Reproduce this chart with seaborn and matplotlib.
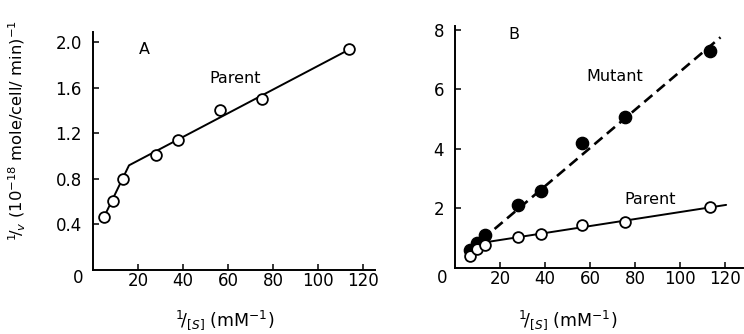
import matplotlib
matplotlib.use("Agg")
import matplotlib.pyplot as plt
import seaborn as sns

# Panel A: parent strain, Lineweaver-Burk plot
inv_s_a = [5.0, 9.0, 13.5, 27.9, 37.6, 56.4, 75.3, 113.8]
parent_a = [0.47, 0.61, 0.80, 1.01, 1.14, 1.41, 1.50, 1.94]
fit_a_x = [5.0, 16.0, 114.0]
fit_a_y = [0.47, 0.92, 1.94]

# Panel B: mutant vs parent
inv_s_b = [6.5, 9.8, 13.5, 28.0, 38.0, 56.3, 75.7, 113.3]
mutant_b = [0.61, 0.85, 1.11, 2.12, 2.60, 4.19, 5.07, 7.29]
parent_b = [0.40, 0.63, 0.77, 1.03, 1.13, 1.44, 1.56, 2.04]
fit_mut_x = [6.5, 118.0]
fit_mut_y = [0.60, 7.75]
fit_par_x = [6.5, 14.0, 120.5]
fit_par_y = [0.42, 0.87, 2.12]

xticks = [20, 40, 60, 80, 100, 120]
yticks_a = [0.4, 0.8, 1.2, 1.6, 2.0]
yticks_b = [2, 4, 6, 8]

sns.set_style("ticks")
plt.rcParams["font.family"] = ["DejaVu Sans"]
plt.rcParams["mathtext.fontset"] = "dejavusans"
plt.rcParams["text.color"] = "black"

W, H = 744, 334
fig = plt.figure(figsize=(W / 100, H / 100), dpi=100)

def px_axes(l, t, r, b):
    return fig.add_axes([l / W, 1 - b / H, (r - l) / W, (b - t) / H])

axA = px_axes(93, 32, 375, 270)
axB = px_axes(455, 26, 743, 268)

lw = 1.4
open_kw = dict(marker="o", s=60, facecolor="white", edgecolor="black",
               linewidth=1.3, zorder=3)
fill_kw = dict(marker="o", s=78, color="black", edgecolor="black",
               linewidth=1.0, zorder=3)

# ---- A ----
sns.lineplot(x=fit_a_x, y=fit_a_y, ax=axA, color="black", lw=lw,
             estimator=None, sort=False)
sns.scatterplot(x=inv_s_a, y=parent_a, ax=axA, **open_kw)
axA.set_xlim(0, 125.3)
axA.set_ylim(0, 2.092)
axA.set_xticks(xticks)
axA.set_yticks(yticks_a)
axA.set_yticklabels([f"{v:.1f}" for v in yticks_a])
axA.text(23, 1.94, "A", fontsize=11.5, ha="center", va="center")
axA.text(63, 1.68, "Parent", fontsize=11.5, ha="center", va="center")

# ---- B ----
sns.lineplot(x=fit_mut_x, y=fit_mut_y, ax=axB, color="black", lw=1.9,
             estimator=None, sort=False)
axB.lines[-1].set_dashes((4, 2.2))
sns.lineplot(x=fit_par_x, y=fit_par_y, ax=axB, color="black", lw=lw,
             estimator=None, sort=False)
sns.scatterplot(x=inv_s_b, y=mutant_b, ax=axB, **fill_kw)
sns.scatterplot(x=inv_s_b, y=parent_b, ax=axB, **open_kw)
axB.set_xlim(0, 128)
axB.set_ylim(0, 8.13)
axB.set_xticks(xticks)
axB.set_yticks(yticks_b)
axB.text(26, 7.85, "B", fontsize=11.5, ha="center", va="center")
axB.text(71, 6.45, "Mutant", fontsize=11.5, ha="center", va="center")
axB.text(86.5, 2.3, "Parent", fontsize=11.5, ha="center", va="center")

for ax in (axA, axB):
    sns.despine(ax=ax)
    for s in ("left", "bottom"):
        ax.spines[s].set_linewidth(1.4)
        ax.spines[s].set_color("black")
    ax.tick_params(direction="in", length=4, width=1.1, colors="black",
                   labelsize=12)
    ax.tick_params(axis="x", pad=1.5)
    ax.tick_params(axis="y", pad=8)
    ax.set_xlabel("")
    ax.set_ylabel("")

# origin labels
fig.text(78 / W, 1 - 278 / H, "0", fontsize=12, ha="center", va="center")
fig.text(442 / W, 1 - 278 / H, "0", fontsize=12, ha="center", va="center")

xl = r"$^{1}\!/_{[S]}$ (mM$^{-1}$)"
fig.text(225 / W, 1 - 320 / H, xl, fontsize=12.5, ha="center", va="center")
fig.text(568 / W, 1 - 320 / H, xl, fontsize=12.5, ha="center", va="center")

yl = r"$^{1}\!/_{v}$ (10$^{-18}$ mole/cell/ min)$^{-1}$"
fig.text(17 / W, 1 - 131 / H, yl, fontsize=11.8, rotation=90,
         ha="center", va="center")

fig.savefig("out.png", dpi=100, facecolor="white")
